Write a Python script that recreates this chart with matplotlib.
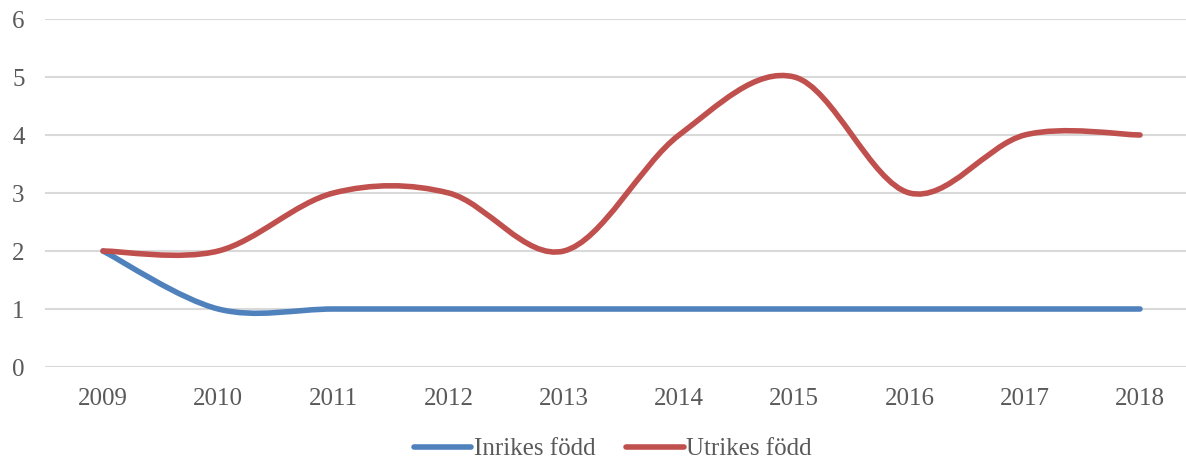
import numpy as np
import matplotlib
matplotlib.use("Agg")
import matplotlib.pyplot as plt
from matplotlib.path import Path
from matplotlib.patches import PathPatch
from matplotlib.lines import Line2D

years = ["2009", "2010", "2011", "2012", "2013", "2014", "2015", "2016", "2017", "2018"]
inrikes = [2, 1, 1, 1, 1, 1, 1, 1, 1, 1]
utrikes = [2, 2, 3, 3, 2, 4, 5, 3, 4, 4]

blue = "#4f81bd"
red = "#c0504d"
grey_txt = "#595959"

plt.rcParams["font.family"] = ["Liberation Serif", "DejaVu Serif"]


def smooth_path(ys):
    # Excel-like smoothed line: cubic Bezier through each point
    xs = np.arange(len(ys), dtype=float)
    pts = np.column_stack([xs, np.asarray(ys, dtype=float)])
    n = len(pts)
    verts = [pts[0]]
    codes = [Path.MOVETO]
    for i in range(n - 1):
        p0 = pts[max(i - 1, 0)]
        p1 = pts[i]
        p2 = pts[i + 1]
        p3 = pts[min(i + 2, n - 1)]
        c1 = p1 + (p2 - p0) / 6.0
        c2 = p2 - (p3 - p1) / 6.0
        verts += [c1, c2, p2]
        codes += [Path.CURVE4] * 3
    return Path(verts, codes)


fig = plt.figure(figsize=(11.86, 4.59), dpi=100)
ax = fig.add_axes([45.4 / 1186, 92 / 459, 1152.2 / 1186, 348 / 459])

for ys, col in [(inrikes, blue), (utrikes, red)]:
    patch = PathPatch(smooth_path(ys), fill=False, edgecolor=col, lw=4,
                      capstyle="round", joinstyle="round", zorder=3)
    ax.add_patch(patch)

ax.set_xlim(-0.5, len(years) - 0.5)
ax.set_ylim(0, 6)
ax.set_xticks(range(len(years)))
ax.set_xticklabels(years)
ax.set_yticks(range(0, 7))
for s in ax.spines.values():
    s.set_visible(False)
ax.grid(axis="y", color="#d9d9d9", lw=1.5)
ax.set_axisbelow(True)
ax.tick_params(axis="both", length=0, labelsize=18, labelcolor=grey_txt)
ax.tick_params(axis="y", pad=15)
ax.tick_params(axis="x", pad=15)

handles = [Line2D([], [], color=blue, lw=4, solid_capstyle="round"),
           Line2D([], [], color=red, lw=4, solid_capstyle="round")]
leg = fig.legend(handles, ["Inrikes född", "Utrikes född"], loc="center",
                 bbox_to_anchor=(613 / 1186, 1 - 449 / 459), ncol=2, frameon=False,
                 fontsize=18, handlelength=2.3, handletextpad=0.12, columnspacing=1.2)
for t in leg.get_texts():
    t.set_color(grey_txt)

fig.savefig("out.png", dpi=100)
